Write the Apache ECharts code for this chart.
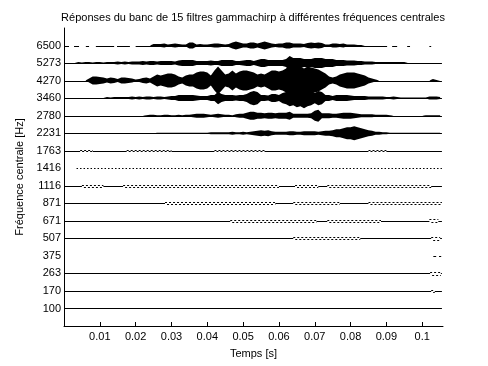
<!DOCTYPE html>
<html><head><meta charset="utf-8">
<script src="https://cdn.jsdelivr.net/npm/echarts@6/dist/echarts.min.js"></script>
<style>html,body{margin:0;padding:0;background:#fff}#c{width:488px;height:366px}</style>
</head><body><div id="c"></div>
<script>
// Channel centre frequencies (Hz), bottom to top
const freqLabels = ['100','170','263','375','507','671','871','1116','1416','1763','2231','2780','3460','4270','5273','6500'];
const titleText = 'Réponses du banc de 15 filtres gammachirp à différentes fréquences centrales';
const xTickStep = 0.01;
const tMax = 0.1058;      // x-axis limit (s)
const tEnd = 0.1055;      // end of the signal (s)
const gridStep = 0.001;   // envelope sampling step (s), values below at k*gridStep, k=0..105
const gain = 1 / 17.5;    // amplitude units -> channel spacing

// Envelope half-amplitudes (k = 0..105)
const amp6500 = [0,0,0,0,0,0,0,0,0,0,0,0,0,0,0,0,0,0,0,0,0,0,0,0,0,
  1.5,1.5,1.5,2,1,1.5,2,1.5,1,1, 3,3,1,1.5,1,1,1.5,2,2,1.5, 1,1.5,3,4,3,2,2,3,3,2,
  3,4,3,2,1.5,2,2,3,3,2, 2,2,1.5,2.5,3,2.5,3,2.5,1,1, 2,2,1.5,2,1,1,1,0.5,0.5,
  0,0,0,0,0,0,0,0,0,0,0,0,0,0,0,0,0,0,0,0,0,0];
const amp5273 = [0,0,0,0,
  1,0.5,1,1,0.5,1,1,0.5,1,1, 1,1.5,1,1.5,1,1.5,1.5,1.5,2,1.5, 2,2,1.5,2,2,2,2,1.5,
  2.5,3,3,3,3,2,2,2,2,2.5, 2,2,3,3,3,3,2,2,2.5,3, 3,2,3,4,4,3,3,3,3,3, 4,7,5,5,5,4,4,4,
  5,5,5,4,4,4,3,3,3,2.5, 2.5,2.5,2,2,1.5,1.5,1.5,1,1,1, 1,1,1,1,1,1,0,0,0,0, 0,0,0,0,0,0];
const amp4270 = [0,0,0,0,0,0,0,
  2,4,4,3.5,3,2,3,2.5,1.5,3, 3,2.5,2,1,1.5,2.5,3,2,4,6, 5,6,7,7,6,4,3,5,6,6,
  8,9,9,8,5,10,14,10,6,7, 10,7,9,10,10,9,8,6,7,6, 8,10,10,9,10,12,18,16,13,14,
  12,14,13,12,11,9,7,4,3,4, 6,7,8,8,8,7,6,5,3,2, 1,
  0,0,0,0,0, 0,0,0,0,0, 0,0,0,0,0, 1.5,0.5,0];
const amp3460 = [0,0,0,0,0,0,0,0,0,0,0,0,
  1,0.5,1,1,1,1,1,1.5,1,1.5, 1,1.5,1.5,1,1.5,1.5,1,1.5,2,2, 3,3,3,3,3,2.5,2,2,2,
  3,3,6,4,3,3,3,2.5,3,3, 4,6,7,6,3,3,2.5,4,4,3, 5,6,8,7,9,8,10,8,7,5, 7,6,
  3,3,2,3,3,3,3,2.5,2,2, 2,2,1.5,1.5,1.5,1.5,1.5,1,1,1.5, 1,0.5,0.5,0.5,0.5,0.5,0.5,0.5,0.5,1.5, 1.5,1.5,1];
const amp2780 = [0,0,0,0,0,0,0,0,0,0,0,0,0,0,0,0,0,0,0,0,0,0,0,
  0.5,1,1,0.5,0.5,1,1,0.5,0.5,1, 0.5,1,1,1.5,2,2,2,1.5,1,1.5, 2,1.5,1,1,0.5,1.5,2,2,3,4,
  4,3,3,2.5,3,3,2.5,3,3,3, 4,2,2,2,2,2,2.5,5,6,2.5, 2.5,2.5,2,2,2.5,3,3,3,2.5,2,
  1.5,1.5,1.5,1.5,1,1,1,1,0.5,
  0,0,0,0,0,0,0,0,0, 0.5,0.5,0.5,0.5,0.5];
const amp2231 = [0,0,0,0,0,0,0,0,0,0,0,0,0,0,0,0,0,0,0,0,0,0,0,0,0,0,
  0.5,0.5,0.5,0.5,0.5,0.5,0.5,0.5,0.5,0.5,0.5,0.5,0.5,0.5,0.5,
  1,1,1,1,1,1,1.5,1,1,1.5, 1,1.5,2,2.5,3,2.5,3,2,1.5,1.5, 1.5,1.5,2,2,1.5,1.5,2,2,2,2,
  1.5,2,2.5,2.5,3,4,4,5,6,6, 7,6,5,4,3,2.5,1.5,1.5,1,1, 0.5,
  0.5,0.5,0.5,0.5,0.5,0.5,0.5,0.5,0.5,0.5,0.5,0.5,0.5,0.5];

// Small ripples on the quiet channels: [tStart, tEnd, halfAmplitude]
const ripple1763 = [[0.0045, 0.0080, 0.5], [0.0175, 0.0300, 0.5], [0.0420, 0.0560, 0.5], [0.0850, 0.0900, 0.5]];
const ripple1116 = [[0.005, 0.011, 1], [0.0165, 0.060, 1], [0.0645, 0.071, 1], [0.0735, 0.1025, 1]];
const ripple871  = [[0.0282, 0.059, 1], [0.064, 0.077, 1], [0.085, 0.1055, 1]];
const ripple671  = [[0.0464, 0.0705, 1], [0.0735, 0.0885, 1], [0.102, 0.1045, 2]];
const ripple507  = [[0.064, 0.0827, 1], [0.1025, 0.105, 2]];
const ripple263  = [[0.1022, 0.1052, 2]];
const ripple170  = [[0.1025, 0.1035, 1.5]];

// Visible pieces of the base lines: [tStart, tEnd]
const segs6500 = [[0, 0.0014], [0.0028, 0.0042], [0.0061, 0.0070], [0.0089, 0.0140], [0.0148, 0.0184], [0.0200, 0.0902], [0.0916, 0.0930], [0.0958, 0.0966], [0.1020, 0.1025]];
const segs1416 = [[0.0035, tEnd]];
const segs375  = [[0.1031, 0.1039], [0.1047, 0.1053]];
const segsFull = [[0, tEnd]];

const traces = [
  {segs: segsFull, ripple: [], dense: null},            // 100
  {segs: segsFull, ripple: ripple170, dense: null},     // 170
  {segs: segsFull, ripple: ripple263, dense: null},     // 263
  {segs: segs375, ripple: [], dense: null},             // 375
  {segs: segsFull, ripple: ripple507, dense: null},     // 507
  {segs: segsFull, ripple: ripple671, dense: null},     // 671
  {segs: segsFull, ripple: ripple871, dense: null},     // 871
  {segs: segsFull, ripple: ripple1116, dense: null},    // 1116
  {segs: segs1416, ripple: [], dense: null, dotted: true}, // 1416
  {segs: segsFull, ripple: ripple1763, dense: null},    // 1763
  {segs: segsFull, ripple: [], dense: amp2231},         // 2231
  {segs: segsFull, ripple: [], dense: amp2780},         // 2780
  {segs: segsFull, ripple: [], dense: amp3460},         // 3460
  {segs: segsFull, ripple: [], dense: amp4270},         // 4270
  {segs: segsFull, ripple: [], dense: amp5273},         // 5273
  {segs: segs6500, ripple: [], dense: amp6500}          // 6500
];

// base-line pieces with the ripple intervals removed
function cutSegments(segs, ripples) {
  let out = segs.map(function (s) { return [s[0], s[1]]; });
  ripples.forEach(function (r) {
    const next = [];
    out.forEach(function (s) {
      if (r[1] <= s[0] || r[0] >= s[1]) { next.push(s); return; }
      if (r[0] > s[0]) next.push([s[0], r[0]]);
      if (r[1] < s[1]) next.push([r[1], s[1]]);
    });
    out = next;
  });
  return out;
}

function renderTrace(params, api) {
  const idx = params.dataIndex;
  const tr = traces[idx];
  const off = idx + 1;
  const children = [];
  cutSegments(tr.segs, tr.ripple).forEach(function (s) {
    const p0 = api.coord([s[0], off]);
    const p1 = api.coord([s[1], off]);
    const y = Math.round(p0[1]) + 0.5;
    children.push({type: 'line', shape: {x1: p0[0], y1: y, x2: p1[0], y2: y},
      style: {stroke: '#000', lineWidth: 1, lineDash: tr.dotted ? [1.5, 2] : null}});
  });
  tr.ripple.forEach(function (r) {
    const a = api.coord([r[0], off + 0.5 * r[2] * gain]);
    const b = api.coord([r[1], off - 0.5 * r[2] * gain]);
    const yu = Math.floor(a[1]) + 0.5, yl = Math.ceil(b[1]) + 0.5;
    children.push({type: 'line', shape: {x1: a[0], y1: yu, x2: b[0], y2: yu},
      style: {stroke: '#000', lineWidth: 1, lineDash: [2, 2]}});
    children.push({type: 'line', shape: {x1: a[0], y1: yl, x2: b[0], y2: yl},
      style: {stroke: '#000', lineWidth: 1, lineDash: [2, 2], lineDashOffset: 2}});
  });
  if (tr.dense) {
    const up = [], lo = [];
    tr.dense.forEach(function (a, k) {
      const t = Math.min(k * gridStep, tEnd);
      up.push(api.coord([t, off + a * gain]));
      lo.push(api.coord([t, off - a * gain]));
    });
    children.push({type: 'polygon', shape: {points: up.concat(lo.reverse())},
      style: {fill: '#000'}});
  }
  return {type: 'group', children: children};
}

const chart = echarts.init(document.getElementById('c'), null, {renderer: 'canvas'});
chart.setOption({
  animation: false,
  backgroundColor: '#fff',
  textStyle: {fontFamily: 'Liberation Sans', fontSize: 11, color: '#000'},
  title: {text: titleText, left: 248, top: 7, textAlign: 'center',
    textStyle: {fontFamily: 'Liberation Sans', fontSize: 11, fontWeight: 'normal', color: '#000'}},
  grid: {left: 64, right: 45, top: 28, bottom: 40},
  xAxis: {
    type: 'value', min: 0, max: tMax, interval: xTickStep,
    name: 'Temps [s]', nameLocation: 'middle', nameGap: 22,
    nameTextStyle: {fontSize: 11, color: '#000'},
    axisLine: {show: true, lineStyle: {color: '#000', width: 1}},
    axisTick: {show: true, inside: true, length: 4, lineStyle: {color: '#000'}},
    axisLabel: {margin: 5, color: '#000', fontSize: 11, showMaxLabel: false,
      formatter: function (v) { return v === 0 ? '' : String(Number(v.toFixed(2))); }},
    splitLine: {show: false}
  },
  yAxis: {
    type: 'value', min: 0, max: freqLabels.length + 1, interval: 1,
    name: 'Fréquence centrale [Hz]', nameLocation: 'middle', nameGap: 36,
    nameTextStyle: {fontSize: 11, color: '#000'},
    axisLine: {show: true, lineStyle: {color: '#000', width: 1}},
    axisTick: {show: false},
    axisLabel: {margin: 3, color: '#000', fontSize: 11,
      formatter: function (v) { return (v >= 1 && v <= freqLabels.length) ? freqLabels[v - 1] : ''; }},
    splitLine: {show: false}
  },
  series: [{
    type: 'custom',
    renderItem: renderTrace,
    encode: {x: 0, y: 1},
    data: traces.map(function (_, i) { return [0, i + 1]; }),
    clip: false
  }]
});
</script></body></html>
